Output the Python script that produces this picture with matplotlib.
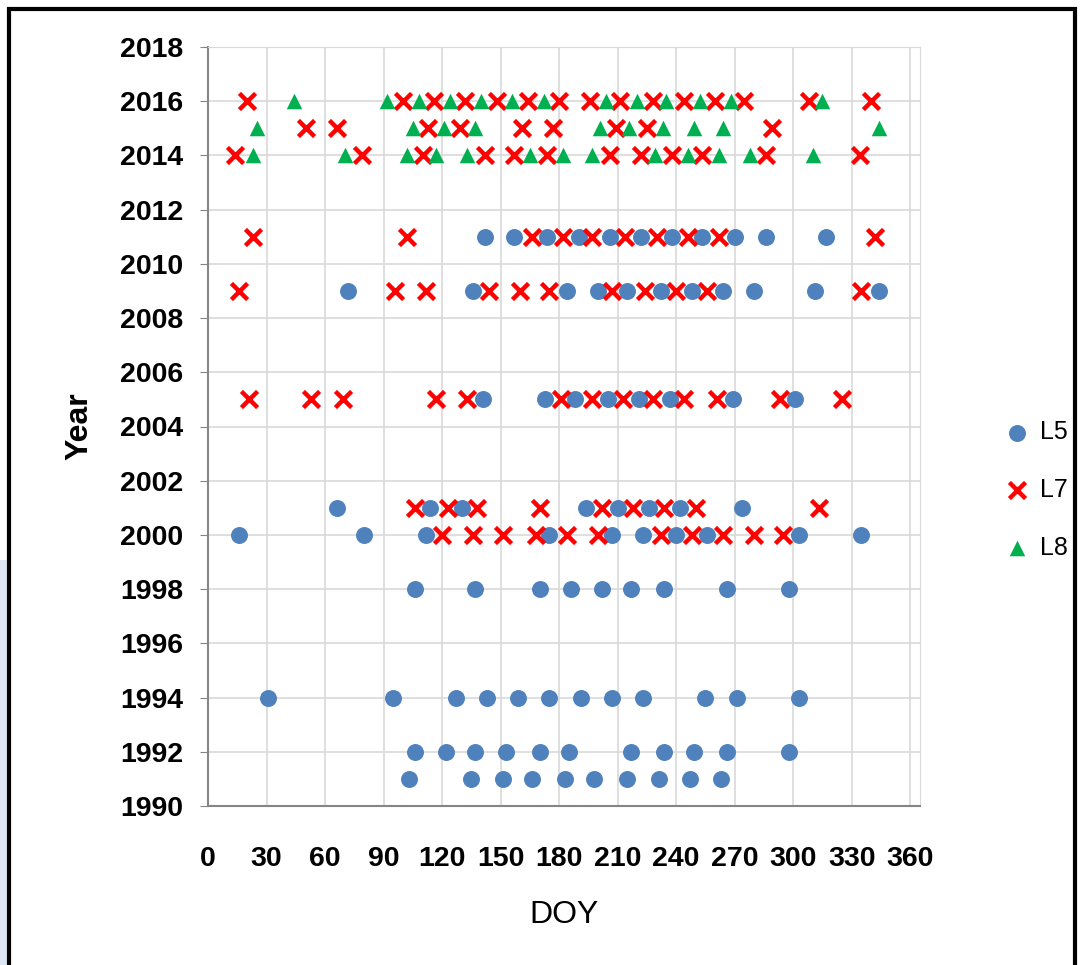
import matplotlib
matplotlib.use('Agg')
import matplotlib.pyplot as plt
from matplotlib.patches import Rectangle

# DOY of acquisitions per year, by sensor
l5 = {
    1991: [103, 135, 151, 166, 183, 198, 215, 231, 247, 263],
    1992: [106, 122, 137, 153, 170, 185, 217, 234, 249, 266, 298],
    1994: [31, 95, 127, 143, 159, 175, 191, 207, 223, 255, 271, 303],
    1998: [106, 137, 170, 186, 202, 217, 234, 266, 298],
    2000: [16, 80, 112, 175, 207, 223, 240, 256, 303, 335],
    2001: [66, 114, 130, 194, 210, 226, 242, 274],
    2005: [141, 173, 188, 205, 221, 237, 269, 301],
    2009: [72, 136, 184, 200, 215, 232, 248, 264, 280, 311, 344],
    2011: [142, 157, 174, 190, 206, 222, 238, 253, 270, 286, 317],
}
l7 = {
    2000: [120, 136, 151, 168, 184, 200, 232, 248, 264, 280, 295],
    2001: [106, 123, 138, 170, 202, 218, 234, 250, 313],
    2005: [21, 53, 69, 117, 133, 181, 197, 213, 228, 244, 261, 293, 325],
    2009: [16, 96, 112, 144, 160, 175, 207, 224, 240, 256, 335],
    2011: [23, 102, 166, 182, 197, 214, 230, 246, 262, 342],
    2014: [14, 79, 110, 142, 157, 174, 206, 222, 238, 253, 286, 334],
    2015: [50, 66, 113, 129, 161, 177, 209, 225, 289],
    2016: [20, 100, 116, 132, 148, 164, 180, 196, 211, 228, 244, 260, 275, 308, 340],
}
l8 = {
    2014: [23, 70, 102, 117, 133, 165, 182, 197, 229, 246, 262, 278, 310],
    2015: [25, 105, 121, 137, 201, 216, 233, 249, 264, 344],
    2016: [44, 92, 108, 124, 140, 156, 172, 204, 220, 235, 252, 268, 315],
}


def flat(d):
    xs, ys = [], []
    for yr, days in d.items():
        xs += days
        ys += [yr] * len(days)
    return xs, ys


plt.rcParams['font.family'] = ['Liberation Sans', 'DejaVu Sans']

fig = plt.figure(figsize=(10.81, 9.65), dpi=100)
ax = fig.add_axes([208 / 1081, 159 / 965, 712 / 1081, 759 / 965])

x5, y5 = flat(l5)
x7, y7 = flat(l7)
x8, y8 = flat(l8)
ax.scatter(x5, y5, s=125, marker='o', color='#4F81BD', label='L5', zorder=3)
ax.scatter(x7, y7, s=135, marker='x', color='#FF0000', linewidths=3.2, label='L7', zorder=4)
ax.scatter(x8, y8, s=125, marker='^', color='#00B050', linewidths=0, label='L8', zorder=5)

ax.set_xlim(0, 365)
ax.set_ylim(1990, 2018)
ax.set_xticks(range(0, 361, 30))
ax.set_yticks(range(1990, 2019, 2))
ax.grid(True, color='#D9D9D9', linewidth=1.2)
ax.set_axisbelow(True)
for s in ['top', 'right']:
    ax.spines[s].set_color('#D9D9D9')
for s in ['left', 'bottom']:
    ax.spines[s].set_color('#868686')
    ax.spines[s].set_linewidth(1.5)
ax.tick_params(axis='y', length=6, color='#868686', pad=12, labelsize=20.5)
ax.tick_params(axis='x', length=0, pad=29, labelsize=20.5)
for lab in ax.get_xticklabels() + ax.get_yticklabels():
    lab.set_fontweight('bold')

ax.set_ylabel('Year', fontsize=23, fontweight='bold', labelpad=18)
ax.set_xlabel('DOY', fontsize=23, labelpad=20)

fig.legend(loc='center left', bbox_to_anchor=(992 / 1081, 1 - 490 / 965),
           frameon=False, fontsize=18, handlelength=1.0, handletextpad=0.4,
           labelspacing=1.35, borderpad=0)

# frame round the picture
fig.add_artist(Rectangle((0, 0), 9 / 1081, 0.42, transform=fig.transFigure,
                         facecolor='#DCE6F2', edgecolor='none'))
fig.add_artist(Rectangle((9 / 1081, -0.01), 1066 / 1081, 1.01 - 9 / 965,
                         transform=fig.transFigure, facecolor='none',
                         edgecolor='black', linewidth=3))

fig.savefig('out.png', dpi=100)
